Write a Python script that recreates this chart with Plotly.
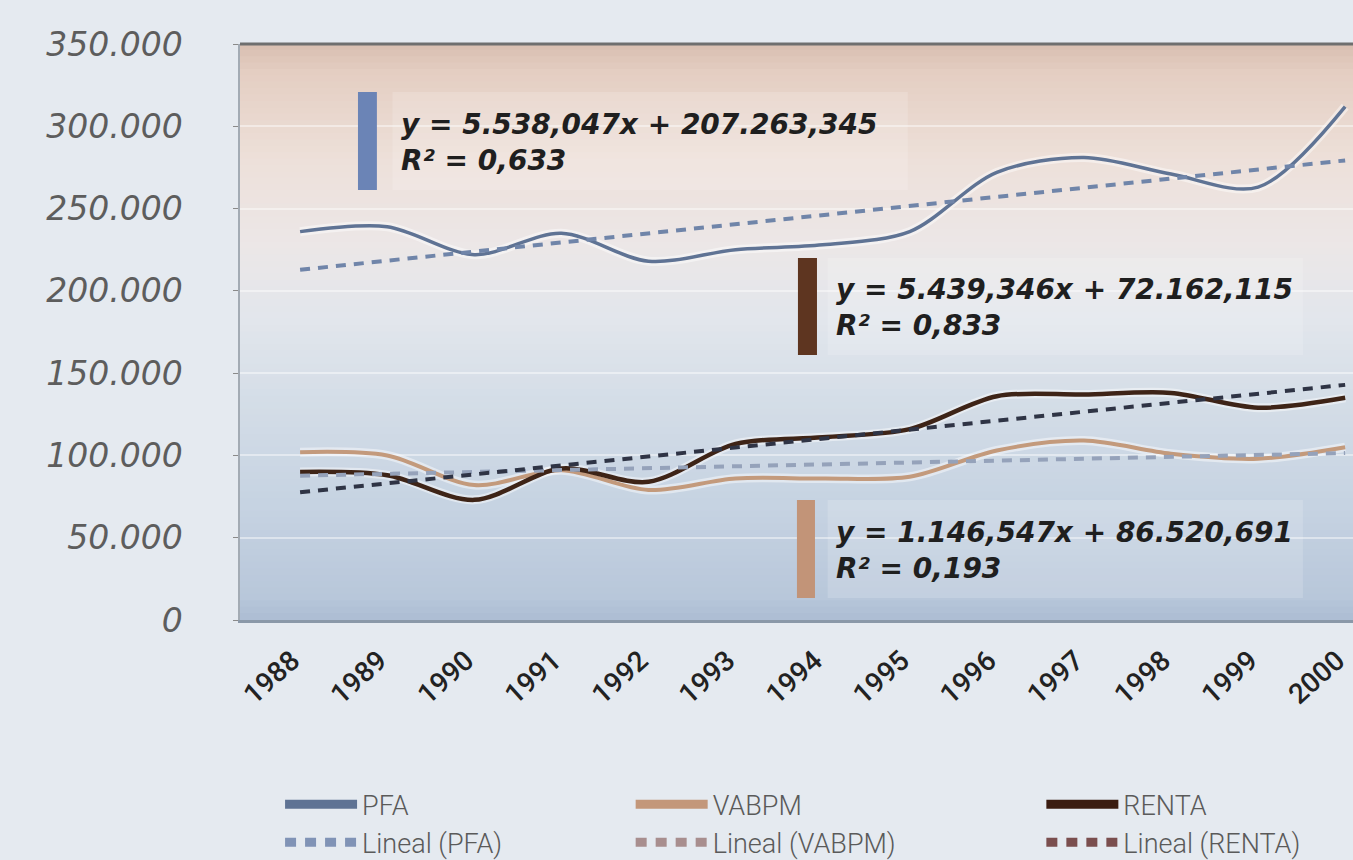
import plotly.graph_objects as go

# ---------------- data ----------------
years = [1988, 1989, 1990, 1991, 1992, 1993, 1994, 1995, 1996, 1997, 1998, 1999, 2000]
pfa = [236000, 239000, 222000, 235000, 218000, 225000, 228000, 236000, 272000, 281000, 271000, 263000, 312000]
vabpm = [102000, 100000, 82000, 91000, 79000, 86000, 86000, 87000, 103000, 109000, 101000, 98000, 105000]
renta = [90000, 88000, 73000, 92000, 84000, 107000, 111000, 116000, 136000, 137000, 138000, 129000, 135000]

series_names = ["PFA", "VABPM", "RENTA"]
trend_slopes = [5538.047, 1146.547, 5439.346]
trend_intercepts = [207263.345, 86520.691, 72162.115]
trend_r2 = [0.633, 0.193, 0.833]
y_tick_values = [0, 50000, 100000, 150000, 200000, 250000, 300000, 350000]

# ---------------- styles ----------------
line_colors = ["#5f7394", "#c39a7c", "#3e2417"]
trend_colors = ["#7085a9", "#95a2ba", "#2f3445"]
legend_line_colors = ["#5f7394", "#c3977a", "#3a1c10"]
legend_trend_colors = ["#8093b6", "#a88e8e", "#7a4e4e"]
bar_colors = ["#6b84b6", "#5e3520", "#c29478"]
line_widths = [3.5, 4, 4.5]


def es_num(v, dec):
    s = f"{v:,.{dec}f}"
    return s.replace(",", "#").replace(".", ",").replace("#", ".")


fig = go.Figure()
all_vals = [pfa, vabpm, renta]
legend_ids = ["legend", "legend2", "legend3"]

# halos
for vals in all_vals:
    fig.add_trace(go.Scatter(x=years, y=vals, mode="lines", showlegend=False, hoverinfo="skip",
                             line=dict(color="rgba(255,255,255,0.45)", width=9, shape="spline", smoothing=0.9)))

for i, vals in enumerate(all_vals):
    fig.add_trace(go.Scatter(x=years, y=vals, mode="lines", name=series_names[i], showlegend=False,
                             line=dict(color=line_colors[i], width=line_widths[i], shape="spline", smoothing=0.9)))

for i, vals in enumerate(all_vals):
    idx = list(range(1, len(years) + 1))
    tr = [trend_slopes[i] * k + trend_intercepts[i] for k in idx]
    fig.add_trace(go.Scatter(x=years, y=tr, mode="lines", name=f"Lineal ({series_names[i]})", showlegend=False,
                             line=dict(color=trend_colors[i], width=4, dash="10px,8px")))

# legend entries (legend-only swatches)
for i in range(3):
    fig.add_trace(go.Scatter(x=[None], y=[None], mode="lines", name=series_names[i],
                             legend=legend_ids[i], legendgroup="M" + series_names[i],
                             line=dict(color=legend_line_colors[i], width=9)))
    fig.add_trace(go.Scatter(x=[None], y=[None], mode="lines", name=f"Lineal ({series_names[i]})",
                             legend=legend_ids[i], legendgroup="L" + series_names[i],
                             line=dict(color=legend_trend_colors[i], width=9, dash="11px,9px")))

# ---------------- background gradient ----------------
stops = [(0.0, (216, 190, 176)), (0.05, (228, 206, 194)), (0.2, (237, 224, 217)), (0.35, (236, 231, 231)),
         (0.48, (226, 230, 236)), (0.62, (212, 221, 231)), (0.8, (198, 211, 226)), (0.96, (184, 199, 218)),
         (1.0, (172, 189, 211))]


def col_at(t):
    for (a, ca), (b, cb) in zip(stops[:-1], stops[1:]):
        if a <= t <= b:
            f = (t - a) / (b - a)
            return "rgb(%d,%d,%d)" % tuple(round(ca[k] + (cb[k] - ca[k]) * f) for k in range(3))
    return "rgb(%d,%d,%d)" % stops[-1][1]


shapes = []
N = 90
for k in range(N):
    t = (k + 0.5) / N
    shapes.append(dict(type="rect", xref="paper", yref="paper", x0=0, x1=1,
                       y0=1 - (k + 1) / N - 0.001, y1=1 - k / N + 0.001,
                       fillcolor=col_at(t), line=dict(width=0), layer="below"))

# top border
shapes.append(dict(type="line", xref="paper", yref="paper", x0=0, x1=1, y0=1, y1=1,
                   line=dict(color="#6e6e6e", width=3)))

# light boxes behind the equations
boxes = [(0.137, 0.60, 0.7465, 0.9167), (0.528, 0.955, 0.460, 0.6285), (0.528, 0.955, 0.038, 0.2083)]
for x0, x1, y0, y1 in boxes:
    shapes.append(dict(type="rect", xref="paper", yref="paper", x0=x0, x1=x1, y0=y0, y1=y1,
                       fillcolor="rgba(255,255,255,0.16)", line=dict(width=0), layer="below"))

# annotation bars (PFA, RENTA, VABPM)
bars = [(0.106, 0.123, 0.7465, 0.9167, bar_colors[0]),
        (0.5013, 0.5184, 0.460, 0.6285, bar_colors[1]),
        (0.5004, 0.5166, 0.038, 0.2083, bar_colors[2])]
for x0, x1, y0, y1, c in bars:
    shapes.append(dict(type="rect", xref="paper", yref="paper", x0=x0, x1=x1, y0=y0, y1=y1,
                       fillcolor=c, line=dict(width=0)))

annotations = []
ann_pos = [(0.1425, 0.829), (0.5335, 0.5425), (0.5335, 0.1215)]
ann_series = [0, 2, 1]
ann_font = dict(family="DejaVu Sans", size=28, color="#1f1f1f", weight="bold", style="italic")
for (ax, ay), si in zip(ann_pos, ann_series):
    txt = (f"y = {es_num(trend_slopes[si], 3)}x + {es_num(trend_intercepts[si], 3)}"
           f"<br>R² = {es_num(trend_r2[si], 3)}")
    annotations.append(dict(text=txt, xref="paper", yref="paper", x=ax, y=ay, xanchor="left",
                            yanchor="middle", showarrow=False, align="left", font=ann_font))

legend_common = dict(orientation="v", yanchor="top", y=-0.278, bgcolor="rgba(0,0,0,0)",
                     font=dict(family="Roboto", size=27, color="#5a5a5a", weight=300),
                     tracegroupgap=0, itemwidth=72)

fig.update_layout(
    width=1353, height=860,
    margin=dict(l=240, r=0, t=44, b=240, autoexpand=False),
    paper_bgcolor="#e5eaf0",
    plot_bgcolor="#dfe5ec",
    separators=",.",
    showlegend=True,
    shapes=shapes,
    annotations=annotations,
    legend=dict(x=0.036, xanchor="left", **legend_common),
    legend2=dict(x=0.351, xanchor="left", **legend_common),
    legend3=dict(x=0.720, xanchor="left", **legend_common),
    xaxis=dict(range=[1987.31, 2000.09], tickvals=years, ticktext=[str(y) for y in years],
               tickangle=-42, showgrid=False, zeroline=False, showline=True, linecolor="#8a98a8", linewidth=3,
               tickfont=dict(family="Roboto", size=28, color="#222222", weight=500),
               ticks="", ticklabelstandoff=10, ticklabelshift=-8, ticklabeloverflow="allow", automargin=False),
    yaxis=dict(range=[0, 350000], tickvals=y_tick_values, tickformat=",d",
               showgrid=True, gridcolor="rgba(255,255,255,0.45)", gridwidth=2, zeroline=False,
               showline=True, linecolor="#a3abb4", linewidth=1.5, ticks="outside", ticklen=5, tickcolor="#8a8a8a",
               tickfont=dict(family="DejaVu Sans", size=33, color="#5d5d5d", style="italic"),
               ticklabelstandoff=44, automargin=False),
)

fig.write_html("out.html")
